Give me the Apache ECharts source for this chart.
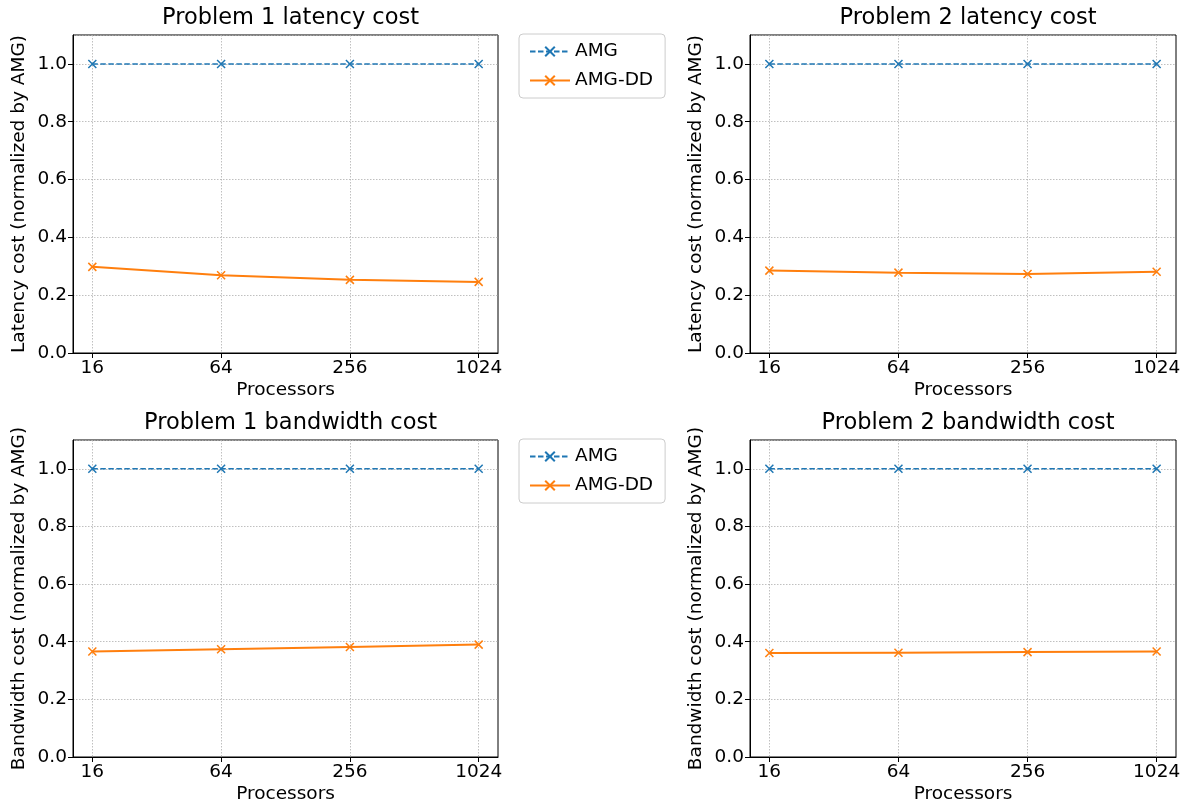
<!DOCTYPE html>
<html>
<head>
<meta charset="utf-8">
<script src="https://cdn.jsdelivr.net/npm/echarts@6/dist/echarts.min.js"></script>
<style>html,body{margin:0;padding:0;background:#fff;}#c{width:1186px;height:806px;}</style>
</head>
<body>
<div id="c"></div>
<script>
const processors = [16, 64, 256, 1024];
const tickLabels = ['16', '64', '256', '1024'];
const titles = ['Problem 1 latency cost', 'Problem 2 latency cost', 'Problem 1 bandwidth cost', 'Problem 2 bandwidth cost'];
const yNames = ['Latency cost (normalized by AMG)', 'Latency cost (normalized by AMG)', 'Bandwidth cost (normalized by AMG)', 'Bandwidth cost (normalized by AMG)'];
const amg = [1.0, 1.0, 1.0, 1.0];
const p1LatencyDD = [0.298, 0.269, 0.253, 0.246];
const p2LatencyDD = [0.285, 0.278, 0.273, 0.281];
const p1BandwidthDD = [0.366, 0.374, 0.382, 0.390];
const p2BandwidthDD = [0.361, 0.362, 0.364, 0.366];
const ddSets = [p1LatencyDD, p2LatencyDD, p1BandwidthDD, p2BandwidthDD];

const BLUE = '#1f77b4', ORANGE = '#ff7f0e';
const FONT = 'DejaVu Sans';
const FS = 18.5;
const xMark = 'path://M0,0L10,10M10,0L0,10';
const grids = [
  {left: 73, top: 35, width: 425, height: 318},
  {left: 750, top: 35, width: 426, height: 318},
  {left: 73, top: 440, width: 425, height: 317},
  {left: 750, top: 440, width: 426, height: 317}
];
const logX = processors.map(p => Math.log2(p));

const option = {
  animation: false,
  backgroundColor: '#fff',
  textStyle: {fontFamily: FONT},
  title: grids.map((g, i) => ({
    text: titles[i], left: g.left + g.width / 2, top: g.top - 33, textAlign: 'center',
    textStyle: {fontFamily: FONT, fontSize: 22.5, fontWeight: 'normal', color: '#000'}
  })),
  grid: grids.map(g => Object.assign({show: true, borderColor: '#000', borderWidth: 1, backgroundColor: 'transparent'}, g)),
  legend: [35, 440].map(t => ({
    left: 519, top: t - 1, orient: 'vertical',
    data: ['AMG', 'AMG-DD'],
    itemWidth: 40, itemHeight: 12, itemGap: 10,
    padding: [8, 12, 8, 10],
    borderColor: '#ccc', borderWidth: 1, borderRadius: 4,
    textStyle: {fontFamily: FONT, fontSize: FS, color: '#000'}
  })),
  xAxis: grids.map((g, i) => ({
    type: 'value', gridIndex: i, min: 3.7, max: 10.3,
    name: 'Processors', nameLocation: 'middle', nameGap: 28,
    nameTextStyle: {fontFamily: FONT, fontSize: FS, color: '#000'},
    axisLine: {show: true, lineStyle: {color: '#000', width: 1}},
    axisTick: {show: true, length: 5, lineStyle: {color: '#000'}, customValues: logX},
    axisLabel: {customValues: logX, fontFamily: FONT, fontSize: FS, color: '#000', margin: 6,
      formatter: v => tickLabels[logX.indexOf(v)]},
    splitLine: {show: true, lineStyle: {color: '#b0b0b0', type: [1.5, 1.5], width: 0.8}}
  })),
  yAxis: grids.map((g, i) => ({
    type: 'value', gridIndex: i, min: 0, max: 1.1, interval: 0.2,
    name: yNames[i], nameLocation: 'middle', nameGap: 44,
    nameTextStyle: {fontFamily: FONT, fontSize: FS, color: '#000'},
    axisLine: {show: true, lineStyle: {color: '#000', width: 1}},
    axisTick: {show: true, length: 5, lineStyle: {color: '#000'}},
    axisLabel: {fontFamily: FONT, fontSize: FS, color: '#000', margin: 6,
      formatter: v => v.toFixed(1), showMaxLabel: false},
    splitLine: {show: true, lineStyle: {color: '#b0b0b0', type: [1.5, 1.5], width: 0.8}}
  })),
  series: []
};

for (let i = 0; i < 4; i++) {
  option.series.push({
    name: 'AMG', type: 'line', xAxisIndex: i, yAxisIndex: i,
    data: logX.map((x, k) => [x, amg[k]]),
    symbol: xMark, symbolSize: 8,
    lineStyle: {color: BLUE, width: 1.5, type: [5.5, 2.5]},
    itemStyle: {color: BLUE, borderColor: BLUE, borderWidth: 1.5}
  });
  option.series.push({
    name: 'AMG-DD', type: 'line', xAxisIndex: i, yAxisIndex: i,
    data: logX.map((x, k) => [x, ddSets[i][k]]),
    symbol: xMark, symbolSize: 8,
    lineStyle: {color: ORANGE, width: 2},
    itemStyle: {color: ORANGE, borderColor: ORANGE, borderWidth: 1.5}
  });
}

const chart = echarts.init(document.getElementById('c'));
chart.setOption(option);
</script>
</body>
</html>
